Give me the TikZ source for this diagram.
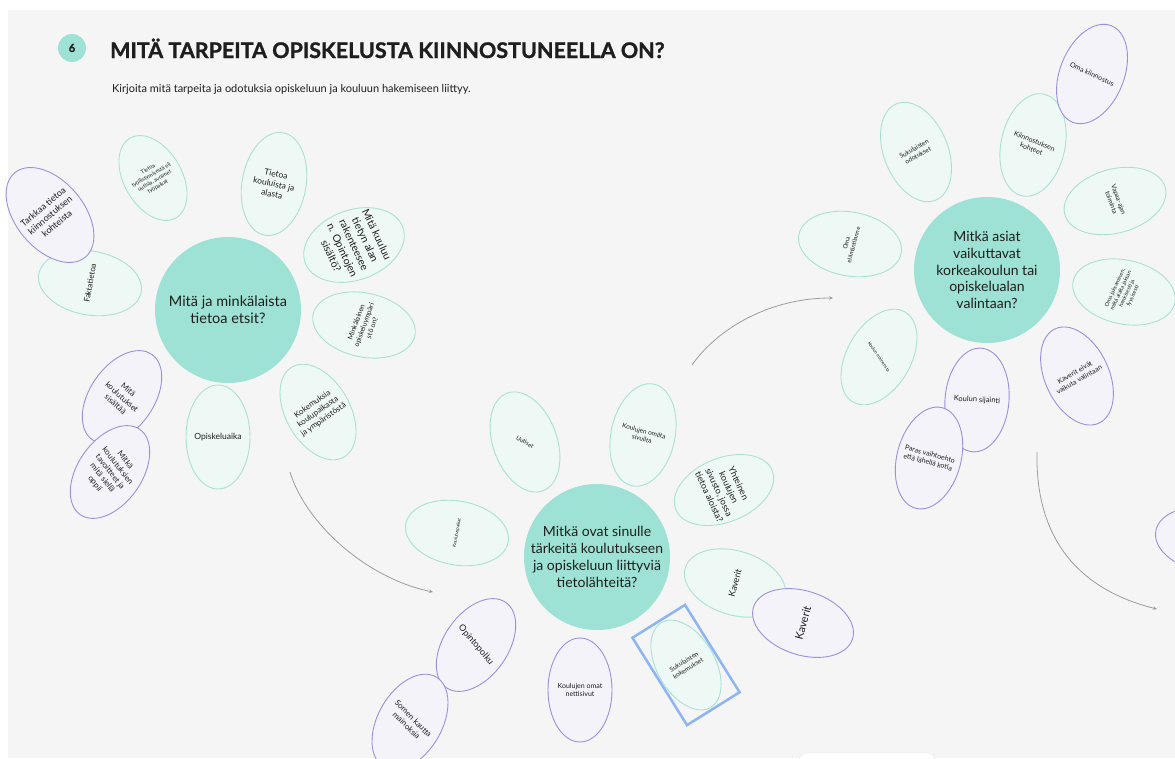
\documentclass[tikz,border=0pt]{standalone}
\usepackage{fontspec}
\setmainfont{Lato}
\newfontfamily\heavyfont{Lato}[BoldFeatures={FakeBold=1.2}]
\usetikzlibrary{arrows.meta,shapes.geometric}

\definecolor{bgpaper}{HTML}{F5F5F5}
\definecolor{hubfill}{HTML}{9DE2D4}
\definecolor{tealline}{HTML}{A9E2D4}
\definecolor{tealfill}{HTML}{EEF8F5}
\definecolor{violetline}{HTML}{9B90DA}
\definecolor{violetfill}{HTML}{F4F3FA}
\definecolor{inkdark}{HTML}{1E1E1E}
\definecolor{flowgray}{HTML}{9C9C9C}
\definecolor{selblue}{HTML}{8DB5F2}
\definecolor{trayline}{HTML}{E2E2E2}

% font size with proportional leading
\newcommand\fsz[1]{\fontsize{#1}{\dimexpr #1pt*6/5\relax}\selectfont}

\tikzset{
  petal/.style={ellipse, minimum width=64pt, minimum height=104pt, inner sep=0pt, line width=0.9pt},
  tealpetal/.style={petal, draw=tealline, fill=tealfill},
  violetpetal/.style={petal, draw=violetline, fill=violetfill},
  petaltext/.style={align=center, text=inkdark, inner sep=0pt},
  hub/.style={circle, fill=hubfill, minimum size=146pt, inner sep=0pt, align=center, text=inkdark},
  flow/.style={draw=flowgray, line width=0.8pt, -{Stealth[length=4pt,width=3.5pt]}},
}

% #1 name, #2 centre, #3 ellipse options, #4 text angle, #5 font size, #6 text
\newcommand\petal[6]{%
  \node[#3] (#1) at (#2) {};
  \node[petaltext, rotate=#4, font=\fsz{#5}] (#1-t) at (#1.center) {#6};
}

\begin{document}
\begin{tikzpicture}[x=1pt,y=-1pt]
\useasboundingbox (0,0) rectangle (1175,758);
\fill[white] (0,0) rectangle (1175,758);
\fill[bgpaper] (8,10) rectangle (1175,758);
\clip (0,0) rectangle (1175,758);

% header
\node[circle, fill=hubfill, minimum size=28pt, inner sep=0pt, text=inkdark, font=\fsz{11}\heavyfont\bfseries] (badge) at (72,48) {6};
\node[anchor=base west, text=inkdark, font=\fsz{21.5}\heavyfont\bfseries, inner sep=0pt] (title) at (110,58) {MITÄ TARPEITA OPISKELUSTA KIINNOSTUNEELLA ON?};
\node[anchor=base west, text=inkdark, font=\fsz{11}, inner sep=0pt] (subtitle) at (112,92) {Kirjoita mitä tarpeita ja odotuksia opiskeluun ja kouluun hakemiseen liittyy.};

% flow arrows between the clusters
\coordinate (f1a) at (290,472); \coordinate (f1b) at (433,592);
\draw[flow] (f1a) .. controls (305,522) and (365,578) .. (f1b);
\coordinate (f2a) at (692,365); \coordinate (f2b) at (833,298);
\draw[flow] (f2a) .. controls (718,328) and (770,298) .. (f2b);
\coordinate (f3a) at (1037,452); \coordinate (f3b) at (1157,609);
\draw[flow] (f3a) .. controls (1035,540) and (1080,590) .. (f3b);

% ---- cluster 1: what information
\node[hub, font=\fsz{14.5}] (hubA) at (228,310) {Mitä ja minkälaista\\tietoa etsit?};
\petal{fakta}{90,283}{tealpetal, rotate=80}{80}{8}{Faktatietoa}
\petal{tarkka}{50,215}{violetpetal, rotate=40, minimum width=68pt, minimum height=110pt}{40}{9}{Tarkkaa tietoa\\kiinnostuksen\\kohteista}
\petal{tyo}{153,178}{tealpetal, rotate=30, minimum width=58pt, minimum height=92pt}{30}{5.5}{Tietoa\\työllistymisestä eli\\uutisia, avoimet\\työpaikat}
\petal{koulu}{274,184}{tealpetal, rotate=-10}{-12}{8.5}{Tietoa\\kouluista ja\\alasta}
\petal{rakenne}{354,245}{tealpetal, rotate=-70, minimum width=70pt}{-65}{10.5}{Mitä kuuluu\\tietyn alan\\rakenteesee\\n. Opintojen\\sisältö?}
\petal{ymparisto}{364,325}{tealpetal, rotate=78}{70}{7}{Minkälainen\\opiskeluympäri\\stö on?}
\petal{kokemus}{318,412}{tealpetal, rotate=30}{35}{8}{Kokemuksia\\koulupaikasta\\ja ympäristöstä}
\petal{aika}{218,437}{tealpetal}{0}{8.5}{Opiskeluaika}
\petal{sisalto}{122,397}{violetpetal, rotate=-35}{-42}{8}{Mitä\\koulutukset\\sisältää}
\petal{tavoite}{110,472}{violetpetal, rotate=-35}{-52}{8}{Mitkä\\koulutuksien\\tavoitteet ja\\mitä siellä\\oppii}

% ---- cluster 2: information sources
\node[hub, font=\fsz{14}] (hubB) at (597,557) {Mitkä ovat sinulle\\tärkeitä koulutukseen\\ja opiskeluun liittyviä\\tietolähteitä?};
\petal{uutiset}{525,442}{tealpetal, rotate=20}{-30}{6}{Uutiset}
\petal{omilta}{643,435}{tealpetal, rotate=-12}{-15}{6.5}{Koulujen omilta\\sivuilta}
\petal{yhteinen}{724,490}{tealpetal, rotate=-68}{-65}{9}{Yhteinen\\koulujen\\sivusto, jossa\\tietoa aloista?}
\petal{paikat}{457,533}{tealpetal, rotate=80}{80}{4.5}{Koulutuspaikat}
\petal{kaveri1}{735,583}{tealpetal, rotate=73}{75}{9}{Kaverit}
\petal{kaveri2}{803,623}{violetpetal, rotate=72}{75}{11}{Kaverit}
\petal{suku}{686,665}{tealpetal, rotate=30, minimum width=58pt, minimum height=98pt}{32}{6.5}{Sukulaisten\\kokemukset}
\node[draw=selblue, line width=2.5pt, minimum width=62pt, minimum height=103pt, rotate=32] (sel) at (686,665) {};
\petal{opintopolku}{476,645}{violetpetal, rotate=-35}{-50}{9}{Opintopolku}
\petal{somen}{410,722}{violetpetal, rotate=-30}{-45}{8}{Somen kautta\\mainoksia}
\petal{nettisivut}{580,690}{violetpetal}{0}{7}{Koulujen omat\\nettisivut}

% ---- cluster 3: what affects the choice
\node[hub, font=\fsz{14}] (hubC) at (987,270) {Mitkä asiat\\vaikuttavat\\korkeakoulun tai\\opiskelualan\\valintaan?};
\petal{kohteet}{1033,145}{tealpetal, rotate=-12}{-22}{7}{Kiinnostuksen\\kohteet}
\petal{kiinnostus}{1092,74}{violetpetal, rotate=-22}{-25}{7}{Oma kiinnostus}
\petal{odotukset}{916,152}{tealpetal, rotate=22}{30}{6.5}{Sukulaisten\\odotukset}
\petal{vapaa}{1115,201}{tealpetal, rotate=-75}{-70}{6.5}{Vapaa-ajan\\toiminta}
\petal{elama}{850,244}{tealpetal, rotate=80}{75}{6}{Oma\\elämäntilanne}
\petal{jaksaminen}{1124,292}{tealpetal, rotate=78}{65}{5.5}{Oma jaksaminen,\\miltä alalta jaksan\\henkisesti ja\\fyysisesti}
\petal{maine}{879,357}{tealpetal, rotate=-30}{-55}{4.5}{Koulun maineesta}
\petal{sijainti}{977,400}{violetpetal, rotate=-5}{-3}{7.5}{Koulun sijainti}
\petal{kotia}{929,458}{violetpetal, rotate=-15}{-15}{7}{Paras vaihtoehto\\että lähellä kotia}
\petal{eivat}{1077,376}{violetpetal, rotate=25}{30}{7}{Kaverit eivät\\vaikuta valintaan}

% petal cut by the right edge, and the tray at the bottom edge
\node[violetpetal, rotate=80] (edgepetal) at (1207,540) {};
\node[draw=trayline, fill=white, rounded corners=6pt, minimum width=135pt, minimum height=30pt] (tray) at (867,768) {};
\end{tikzpicture}
\end{document}
